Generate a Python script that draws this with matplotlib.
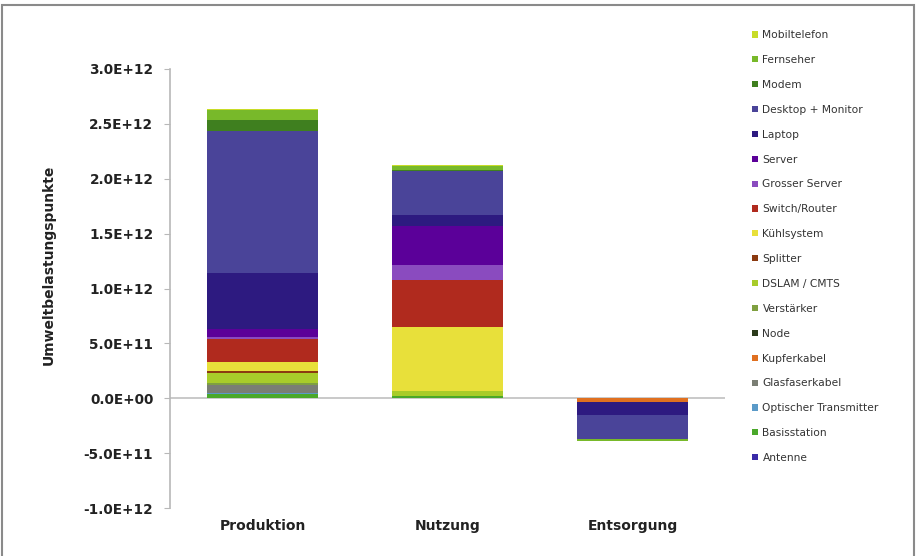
import numpy as np
import matplotlib.pyplot as plt
from matplotlib.patches import Rectangle
from matplotlib.ticker import FuncFormatter

# Lebenszyklus-Phasen (x-Achse)
phasen = ['Produktion', 'Nutzung', 'Entsorgung']

# Komponenten in Stapelreihenfolge (unten -> oben)
komponenten = ['Antenne', 'Basisstation', 'Optischer Transmitter', 'Glasfaserkabel',
               'Kupferkabel', 'Node', 'Verstärker', 'DSLAM / CMTS', 'Splitter',
               'Kühlsystem', 'Switch/Router', 'Grosser Server', 'Server', 'Laptop',
               'Desktop + Monitor', 'Modem', 'Fernseher', 'Mobiltelefon']

farben = ['#3a2aa8', '#4aa82a', '#5a9ac8', '#7a7e74',
          '#e07020', '#2a3a1a', '#7fa040', '#a8cc2a', '#8b3a10',
          '#e8e03a', '#b02a1e', '#8a4bbf', '#5b0099', '#2d1a80',
          '#4a4499', '#3f7f1f', '#78b92a', '#c8dc28']

# Umweltbelastungspunkte je Komponente, in 1E12
produktion = [0.003, 0.036, 0.005, 0.075, 0.003, 0.003, 0.014, 0.087, 0.024,
              0.077, 0.212, 0.020, 0.075, 0.510, 1.288, 0.100, 0.097, 0.005]
nutzung = [0.002, 0.020, 0.000, 0.000, 0.000, 0.000, 0.000, 0.045, 0.000,
           0.583, 0.432, 0.130, 0.355, 0.100, 0.400, 0.010, 0.040, 0.008]
entsorgung = [0.000, 0.000, 0.000, 0.000, -0.030, 0.000, 0.000, 0.000, 0.000,
              0.000, 0.000, 0.000, 0.000, -0.120, -0.220, 0.000, -0.015, 0.000]

werte = np.array([produktion, nutzung, entsorgung]).T * 1e12

fig = plt.figure(figsize=(9.18, 5.56), dpi=100)
ax = fig.add_axes([170/918, 48/556, 555/918, 439/556])

x = np.arange(len(phasen))
pos_unten = np.zeros(len(phasen))
neg_unten = np.zeros(len(phasen))
handles = []
for i, name in enumerate(komponenten):
    w = werte[i]
    unten = np.where(w >= 0, pos_unten, neg_unten)
    b = ax.bar(x, w, 0.595, bottom=unten, color=farben[i], label=name, linewidth=0)
    handles.append(b)
    pos_unten += np.where(w > 0, w, 0)
    neg_unten += np.where(w < 0, w, 0)

ax.set_xlim(-0.5, 2.5)
ax.set_ylim(-1e12, 3e12)
ax.set_yticks(np.arange(-1e12, 3.01e12, 0.5e12))
ax.yaxis.set_major_formatter(FuncFormatter(lambda v, p: f'{v:.1E}'))
ax.axhline(0, color='#c0c0c0', linewidth=1.2, zorder=0)

for s in ['top', 'right', 'bottom']:
    ax.spines[s].set_visible(False)
ax.spines['left'].set_color('#b8b8b8')
ax.spines['left'].set_linewidth(1.2)

ax.tick_params(axis='y', direction='out', length=4, color='#b8b8b8', pad=8)
ax.tick_params(axis='x', length=0, pad=8)
ax.set_xticks(x)
ax.set_xticklabels(phasen, fontsize=10, fontweight='bold', color='#222222')
for t in ax.get_yticklabels():
    t.set_fontsize(9.8)
    t.set_fontweight('bold')
    t.set_color('#222222')

ax.set_ylabel('Umweltbelastungspunkte', fontsize=10, fontweight='bold', color='#222222')
ax.yaxis.set_label_coords(-0.205, 0.555)

leg = fig.legend(handles[::-1], komponenten[::-1], loc='upper left',
                 bbox_to_anchor=(748/918, 1 - 26/556), frameon=False,
                 fontsize=7.7, handlelength=0.5, handleheight=0.5,
                 handletextpad=0.45, labelspacing=1.39, borderaxespad=0)
for t in leg.get_texts():
    t.set_color('#333333')

# Rahmen um die Grafik
fig.patches.append(Rectangle((2/918, -0.05), 912/918, 1.05 - 5/556,
                             transform=fig.transFigure, fill=False,
                             edgecolor='#8a8a8a', linewidth=1.5))

fig.savefig('out.png', dpi=100)
